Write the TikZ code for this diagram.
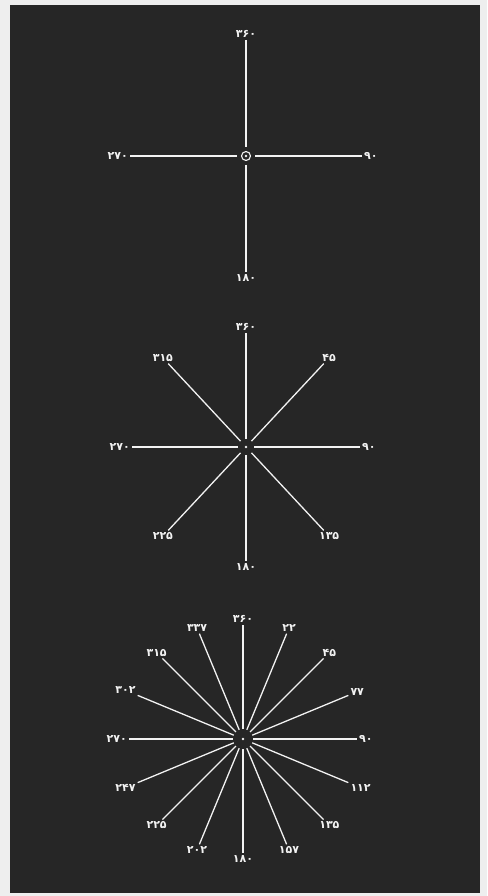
\documentclass[tikz,border=0pt]{standalone}
\usepackage{fontspec}
\newfontfamily\fa[Script=Arabic]{DejaVu Sans}
\usetikzlibrary{calc}
\definecolor{panel}{HTML}{262626}
\definecolor{paper}{HTML}{EEEEEE}
\definecolor{ink}{HTML}{F2F2F2}
\tikzset{
  ray/.style={draw=ink, line width=1.3pt},
  lab/.style={text=ink, font=\fa\bfseries\fontsize{11}{12}\selectfont, inner sep=2pt},
}
\begin{document}
\begin{tikzpicture}[x=1pt,y=-1pt]
\fill[paper] (0,0) rectangle (487,896);
\useasboundingbox (0,0) rectangle (487,896);
\fill[panel] (10,5) rectangle (480,893);

% ---------- diagram 1 ----------
\coordinate (c1) at (246,156);
\foreach \a/\t/\n in {90/۳۶۰/a, 0/۹۰/b, -90/۱۸۰/c, 180/۲۷۰/d}{
  \path ($(c1)+({-\a}:116)$) node[lab, anchor=\a+180] (l1\n) {\t};
  \draw[ray] ($(c1)+({-\a}:9)$) -- ($(c1)+({-\a}:116)$);
}
\draw[ink, line width=1.1pt] (c1) circle (4.5);
\fill[ink] (c1) circle (1.4);

% ---------- diagram 2 ----------
\coordinate (c2) at (246,447);
\foreach \a/\t/\n in {90/۳۶۰/a, 47/۴۵/b, 0/۹۰/c, -47/۱۳۵/d, -90/۱۸۰/e, -133/۲۲۵/f, 180/۲۷۰/g, 133/۳۱۵/h}{
  \path ($(c2)+({-\a}:114)$) node[lab, anchor=\a+180] (l2\n) {\t};
  \draw[ray] ($(c2)+({-\a}:8)$) -- ($(c2)+({-\a}:114)$);
}
\fill[ink] (c2) circle (1.3);

% ---------- diagram 3 ----------
\coordinate (c3) at (243,739);
\foreach \a/\t/\n in {90/۳۶۰/a, 67.5/۲۲/b, 45/۴۵/c, 22.5/۷۷/d, 0/۹۰/e, -22.5/۱۱۲/f, -45/۱۳۵/g, -67.5/۱۵۷/h, -90/۱۸۰/i, -112.5/۲۰۲/j, -135/۲۲۵/k, -157.5/۲۴۷/l, 180/۲۷۰/m, 157.5/۳۰۲/n, 135/۳۱۵/o, 112.5/۳۳۷/p}{
  \path ($(c3)+({-\a}:114)$) node[lab, anchor=\a+180] (l3\n) {\t};
  \draw[ray] ($(c3)+({-\a}:10)$) -- ($(c3)+({-\a}:114)$);
}
\fill[ink] (c3) circle (1.3);
\end{tikzpicture}
\end{document}
